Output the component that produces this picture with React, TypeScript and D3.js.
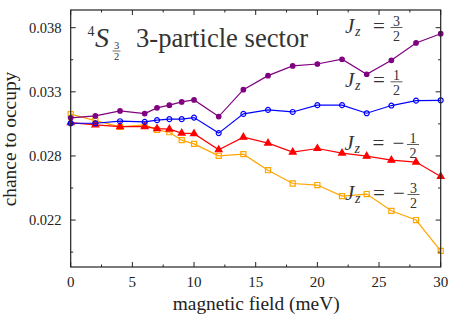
import React from 'react'
import * as d3 from 'd3'

const field = [0, 2, 4, 6, 7, 8, 9, 10, 12, 14, 16, 18, 20, 22, 24, 26, 28, 30]
const jzPlus32 = [0.03047, 0.03062, 0.03101, 0.0308, 0.03125, 0.03146, 0.03171, 0.03187, 0.03057, 0.03267, 0.03376, 0.03452, 0.03467, 0.03504, 0.03387, 0.03496, 0.03631, 0.03703]
const jzPlus12 = [0.03005, 0.03005, 0.03021, 0.03016, 0.03029, 0.03037, 0.03037, 0.03049, 0.02928, 0.03078, 0.03109, 0.03093, 0.03146, 0.03146, 0.03083, 0.03143, 0.03181, 0.03184]
const jzMinus12 = [0.0301, 0.02992, 0.02979, 0.02979, 0.02963, 0.02959, 0.02928, 0.02924, 0.02798, 0.02896, 0.0285, 0.0278, 0.02808, 0.02772, 0.02748, 0.02717, 0.02702, 0.0259]
const jzMinus32 = [0.03076, 0.03026, 0.02977, 0.02992, 0.02953, 0.02935, 0.02873, 0.02844, 0.02751, 0.02764, 0.02639, 0.02535, 0.02523, 0.02437, 0.02453, 0.02322, 0.0225, 0.02009]

const xTicks = [0, 5, 10, 15, 20, 25, 30]
const xMinorTicks = [2.5, 7.5, 12.5, 17.5, 22.5, 27.5]
const yTicks = [0.0225, 0.0275, 0.0325, 0.0375]
const yTickLabels = ['0.022', '0.028', '0.033', '0.038']
const yMinorTicks = [0.02, 0.025, 0.03, 0.035]

const W = 450
const H = 317
const left = 70.7
const right = 440.7
const top = 10
const bottom = 267
const font = "'Liberation Serif', 'Times New Roman', serif"
const ink = '#333'

const series = [
  { name: '-3/2', values: jzMinus32, color: '#ffa500', marker: 'square' },
  { name: '-1/2', values: jzMinus12, color: '#ff0000', marker: 'triangle' },
  { name: '1/2', values: jzPlus12, color: '#0000ff', marker: 'circle' },
  { name: '3/2', values: jzPlus32, color: '#800080', marker: 'dot' },
]

// J_z = ±n/2 label, x/y = left edge and baseline of the J
const JzLabel = ({ x, y, num, neg }: { x: number; y: number; num: string; neg: boolean }) => {
  const fx = neg ? x + 68.5 : x + 51.5
  return (
    <g fill={ink}>
      <text x={x} y={y} fontSize={21} fontStyle="italic">J</text>
      <text x={x + 10} y={y + 3} fontSize={14} fontStyle="italic">z</text>
      <text x={x + 34} y={y - 0.5} fontSize={21} textAnchor="middle">=</text>
      {neg && <text x={x + 54} y={y - 0.5} fontSize={21} textAnchor="middle">−</text>}
      <text x={fx} y={y - 7.5} fontSize={14} textAnchor="middle">{num}</text>
      <line x1={fx - 6} x2={fx + 6} y1={y - 5.5} y2={y - 5.5} stroke={ink} strokeWidth={0.8} />
      <text x={fx} y={y + 7.7} fontSize={14} textAnchor="middle">2</text>
    </g>
  )
}

const App = () => {
  const x = d3.scaleLinear().domain([0, 30]).range([left, right])
  const y = d3.scaleLinear().domain([0.01884, 0.03888]).range([bottom, top])
  const line = d3.line<number>()
    .x((_, i) => x(field[i]))
    .y(d => y(d))

  const symbols: Record<string, string> = {
    square: d3.symbol(d3.symbolSquare, 26)() as string,
    triangle: d3.symbol(d3.symbolTriangle, 20)() as string,
    circle: d3.symbol(d3.symbolCircle, 19)() as string,
    dot: d3.symbol(d3.symbolCircle, 16)() as string,
  }

  return (
    <svg width={W} height={H} style={{ position: 'absolute', left: 0, top: 0, background: '#fff', fontFamily: font }}>
      {/* series */}
      {series.map(s => (
        <g key={s.name}>
          <path d={line(s.values) as string} fill="none" stroke={s.color} strokeWidth={1.2} />
          {s.values.map((v, i) => (
            <path
              key={i}
              d={symbols[s.marker]}
              transform={`translate(${x(field[i])},${y(v)})`}
              fill={s.marker === 'square' || s.marker === 'circle' ? 'none' : s.color}
              stroke={s.color}
              strokeWidth={1.2}
            />
          ))}
        </g>
      ))}

      {/* frame and ticks */}
      <rect x={left} y={top} width={right - left} height={bottom - top} fill="none" stroke="#222" strokeWidth={1.2} />
      {xTicks.map(t => (
        <g key={'x' + t} stroke="#222" strokeWidth={1}>
          <line x1={x(t)} x2={x(t)} y1={bottom} y2={bottom - 5} />
          <line x1={x(t)} x2={x(t)} y1={top} y2={top + 5} />
        </g>
      ))}
      {xMinorTicks.map(t => (
        <g key={'xm' + t} stroke="#222" strokeWidth={1}>
          <line x1={x(t)} x2={x(t)} y1={bottom} y2={bottom - 2.5} />
          <line x1={x(t)} x2={x(t)} y1={top} y2={top + 2.5} />
        </g>
      ))}
      {yTicks.map(t => (
        <g key={'y' + t} stroke="#222" strokeWidth={1}>
          <line x1={left} x2={left + 5} y1={y(t)} y2={y(t)} />
          <line x1={right} x2={right - 5} y1={y(t)} y2={y(t)} />
        </g>
      ))}
      {yMinorTicks.map(t => (
        <g key={'ym' + t} stroke="#222" strokeWidth={1}>
          <line x1={left} x2={left + 2.5} y1={y(t)} y2={y(t)} />
          <line x1={right} x2={right - 2.5} y1={y(t)} y2={y(t)} />
        </g>
      ))}

      {/* tick labels */}
      {xTicks.map(t => (
        <text key={'xl' + t} x={x(t)} y={287} fontSize={15} textAnchor="middle" fill="#222">{t}</text>
      ))}
      {yTicks.map((t, i) => (
        <text key={'yl' + t} x={61.5} y={y(t) + 5} fontSize={14.5} textAnchor="end" fill="#222">{yTickLabels[i]}</text>
      ))}

      {/* axis titles */}
      <text x={(left + right) / 2 + 0.5} y={310} fontSize={19.4} textAnchor="middle" fill="#222">magnetic field (meV)</text>
      <text transform="translate(16,139) rotate(-90)" fontSize={19.4} textAnchor="middle" fill="#222">chance to occupy</text>

      {/* title */}
      <g fill={ink}>
        <text x={87.5} y={36} fontSize={14}>4</text>
        <text x={95} y={46.5} fontSize={28} fontStyle="italic">S</text>
        <text x={116.5} y={49} fontSize={10.5} textAnchor="middle">3</text>
        <line x1={112.5} x2={120.5} y1={51} y2={51} stroke={ink} strokeWidth={0.7} />
        <text x={116.5} y={59.5} fontSize={10.5} textAnchor="middle">2</text>
        <text x={136} y={46.5} fontSize={26.6}>3-particle sector</text>
      </g>

      <JzLabel x={345} y={33} num="3" neg={false} />
      <JzLabel x={345} y={87.3} num="1" neg={false} />
      <JzLabel x={344.5} y={150} num="1" neg={true} />
      <JzLabel x={345} y={200} num="3" neg={true} />
    </svg>
  )
}

export default App
